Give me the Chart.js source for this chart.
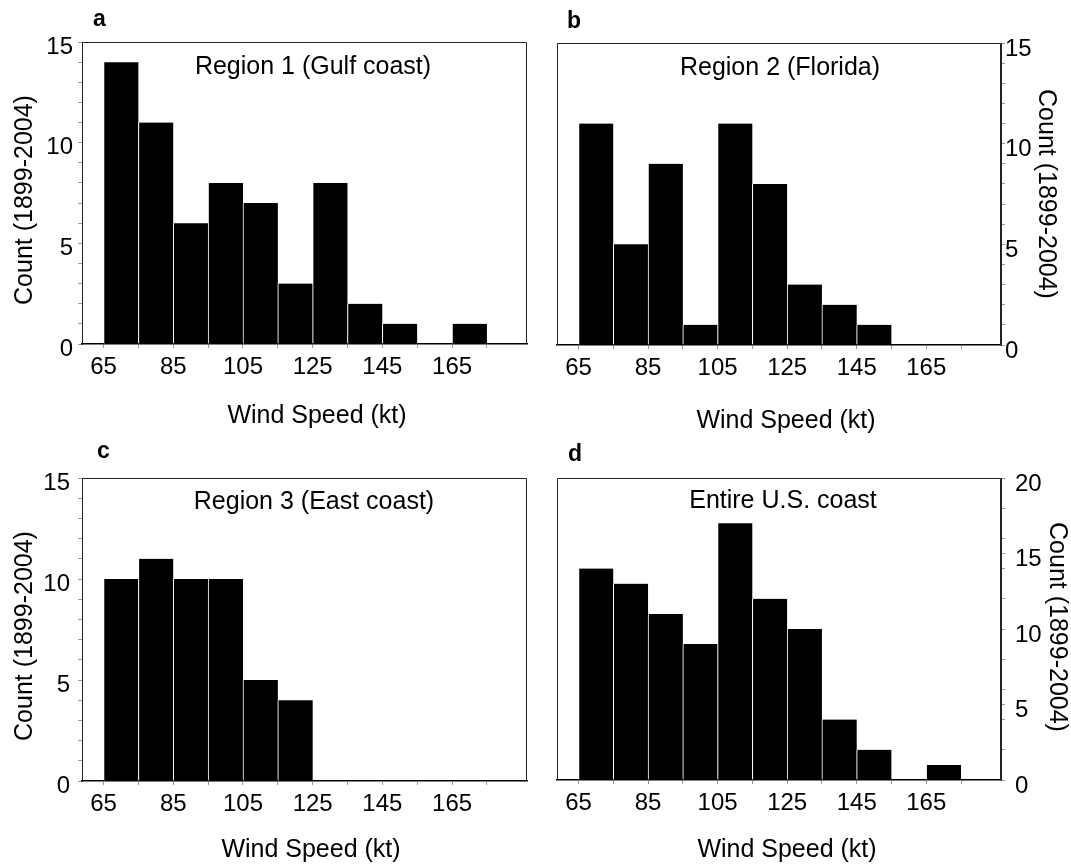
<!DOCTYPE html>
<html>
<head>
<meta charset="utf-8">
<script src="https://cdn.jsdelivr.net/npm/chart.js@4/dist/chart.umd.min.js"></script>
<style>
html,body{margin:0;padding:0;background:#fff;width:1071px;height:865px;overflow:hidden;}
canvas{position:absolute;left:0;top:0;}
</style>
</head>
<body>
<canvas id="pa" width="1071" height="865"></canvas>
<canvas id="pb" width="1071" height="865"></canvas>
<canvas id="pc" width="1071" height="865"></canvas>
<canvas id="pd" width="1071" height="865"></canvas>
<script>
// ---- data ----
const binStarts = [65, 75, 85, 95, 105, 115, 125, 135, 145, 155, 165, 175];
const binWidth = 10;
const region1Counts = [14, 11, 6, 8, 7, 3, 8, 2, 1, 0, 1, 0];
const region2Counts = [11, 5, 9, 1, 11, 8, 3, 2, 1, 0, 0, 0];
const region3Counts = [10, 11, 10, 10, 5, 4, 0, 0, 0, 0, 0, 0];
const entireCounts  = [14, 13, 11, 9, 17, 12, 10, 4, 2, 0, 1, 0];
const xTickValues = [65, 75, 85, 95, 105, 115, 125, 135, 145, 155, 165, 175];
const xTickLabels = ['65', '85', '105', '125', '145', '165'];
const yTicks15 = [0,1,2,3,4,5,6,7,8,9,10,11,12,13,14,15];
const yTicks20 = [0,2,4,5,6,8,10,12,14,15,16,18,20];
const yTickLabels = ['0', '5', '10', '15', '20'];
const panelTitles = ['Region 1 (Gulf coast)', 'Region 2 (Florida)', 'Region 3 (East coast)', 'Entire U.S. coast'];
const panelLetters = ['a', 'b', 'c', 'd'];
const xAxisTitle = 'Wind Speed (kt)';
const yAxisTitle = 'Count (1899-2004)';

const FONT = '"Liberation Sans", Arial, Helvetica, sans-serif';
const W = 1071, H = 865;

function makePanel(cfg) {
  const AXW = 60, AXH = 60;
  const pad = {
    top: cfg.area.t,
    bottom: H - cfg.area.b - AXH,
    left: cfg.side === 'left' ? cfg.area.l - AXW : cfg.area.l,
    right: cfg.side === 'left' ? W - cfg.area.r : W - cfg.area.r - AXW
  };
  const textPlugin = {
    id: 'panelText' + cfg.letter,
    afterDraw(chart) {
      const ctx = chart.ctx;
      const ca = chart.chartArea;
      ctx.save();
      // frame (top + far side)
      ctx.strokeStyle = '#222';
      ctx.lineWidth = 1;
      ctx.beginPath();
      const l = Math.round(ca.left) + 0.5, r = Math.round(ca.right) - 0.5;
      const t = Math.round(ca.top) + 0.5, b = Math.round(ca.bottom);
      ctx.moveTo(l, b); ctx.lineTo(l, t); ctx.lineTo(r, t); ctx.lineTo(r, b);
      ctx.stroke();
      ctx.fillStyle = '#000';
      // panel title
      ctx.font = '25px ' + FONT;
      ctx.textAlign = 'center';
      ctx.textBaseline = 'alphabetic';
      ctx.fillText(cfg.title, cfg.titleX, cfg.titleY);
      // x axis title
      ctx.fillText(xAxisTitle, cfg.xtX, cfg.xtY);
      // y axis title
      ctx.save();
      ctx.translate(cfg.ytX, cfg.ytY);
      ctx.rotate(cfg.side === 'left' ? -Math.PI / 2 : Math.PI / 2);
      ctx.textBaseline = 'middle';
      ctx.fillText(yAxisTitle, 0, 0);
      ctx.restore();
      // panel letter
      ctx.font = 'bold 23px ' + FONT;
      ctx.textAlign = 'left';
      ctx.textBaseline = 'alphabetic';
      ctx.fillText(cfg.letter, cfg.letX, cfg.letY);
      ctx.restore();
    }
  };
  return new Chart(document.getElementById(cfg.id), {
    type: 'bar',
    data: {
      datasets: [{
        data: binStarts.map((s, i) => ({ x: s + binWidth / 2, y: cfg.counts[i] })),
        backgroundColor: '#000',
        borderColor: '#fff',
        borderWidth: { left: 1, right: 0, top: 0, bottom: 0 },
        borderSkipped: false,
        barPercentage: 1,
        categoryPercentage: 1
      }]
    },
    options: {
      responsive: false,
      animation: false,
      devicePixelRatio: 1,
      layout: { padding: pad },
      plugins: { legend: { display: false }, tooltip: { enabled: false }, title: { display: false } },
      scales: {
        x: {
          type: 'linear',
          min: 58.8, max: 186.5,
          offset: false,
          grid: { display: true, offset: false, drawOnChartArea: false, drawTicks: true, tickLength: 4, tickColor: '#999', tickWidth: 1 },
          border: { display: true, color: '#000', width: 1.5 },
          afterBuildTicks: s => { s.ticks = xTickValues.map(v => ({ value: v })); },
          afterFit: s => { s.height = AXH; },
          ticks: {
            autoSkip: false, maxRotation: 0, minRotation: 0,
            padding: 5,
            color: '#000',
            font: { family: FONT, size: 24 },
            callback: v => xTickLabels.includes(String(v)) ? String(v) : ''
          }
        },
        y: {
          type: 'linear',
          position: cfg.side,
          min: 0, max: cfg.yMax,
          grid: { display: true, drawOnChartArea: false, drawTicks: true, tickLength: 4, tickColor: '#999', tickWidth: 1 },
          border: { display: true, color: '#222', width: 1 },
          afterBuildTicks: s => { s.ticks = cfg.yTicks.map(v => ({ value: v })); },
          afterFit: s => { s.width = AXW; },
          ticks: {
            autoSkip: false,
            padding: cfg.tickPad,
            labelOffset: cfg.labOff,
            color: '#000',
            font: { family: FONT, size: 24 },
            callback: v => yTickLabels.includes(String(v)) ? String(v) : ''
          }
        }
      }
    },
    plugins: [textPlugin]
  });
}

makePanel({ id: 'pa', letter: panelLetters[0], title: panelTitles[0], counts: region1Counts, side: 'left',
  area: { l: 82, r: 527, t: 42, b: 344 }, yMax: 15, yTicks: yTicks15, tickPad: 5, labOff: 5,
  titleX: 313, titleY: 74, xtX: 317, xtY: 423, ytX: 25, ytY: 200, letX: 93, letY: 26 });
makePanel({ id: 'pb', letter: panelLetters[1], title: panelTitles[1], counts: region2Counts, side: 'right',
  area: { l: 557, r: 1001, t: 43, b: 345 }, yMax: 15, yTicks: yTicks15, tickPad: 0, labOff: 6,
  titleX: 780, titleY: 75, xtX: 786, xtY: 428, ytX: 1046, ytY: 194, letX: 567, letY: 28 });
makePanel({ id: 'pc', letter: panelLetters[2], title: panelTitles[2], counts: region3Counts, side: 'left',
  area: { l: 82, r: 527, t: 478, b: 781 }, yMax: 15, yTicks: yTicks15, tickPad: 8, labOff: 5,
  titleX: 314, titleY: 509, xtX: 311, xtY: 857, ytX: 25, ytY: 636, letX: 97, letY: 458 });
makePanel({ id: 'pd', letter: panelLetters[3], title: panelTitles[3], counts: entireCounts, side: 'right',
  area: { l: 557, r: 1001, t: 478, b: 780 }, yMax: 20, yTicks: yTicks20, tickPad: 10, labOff: 6,
  titleX: 783, titleY: 508, xtX: 787, xtY: 857, ytX: 1057, ytY: 627, letX: 568, letY: 461 });
</script>
</body>
</html>
